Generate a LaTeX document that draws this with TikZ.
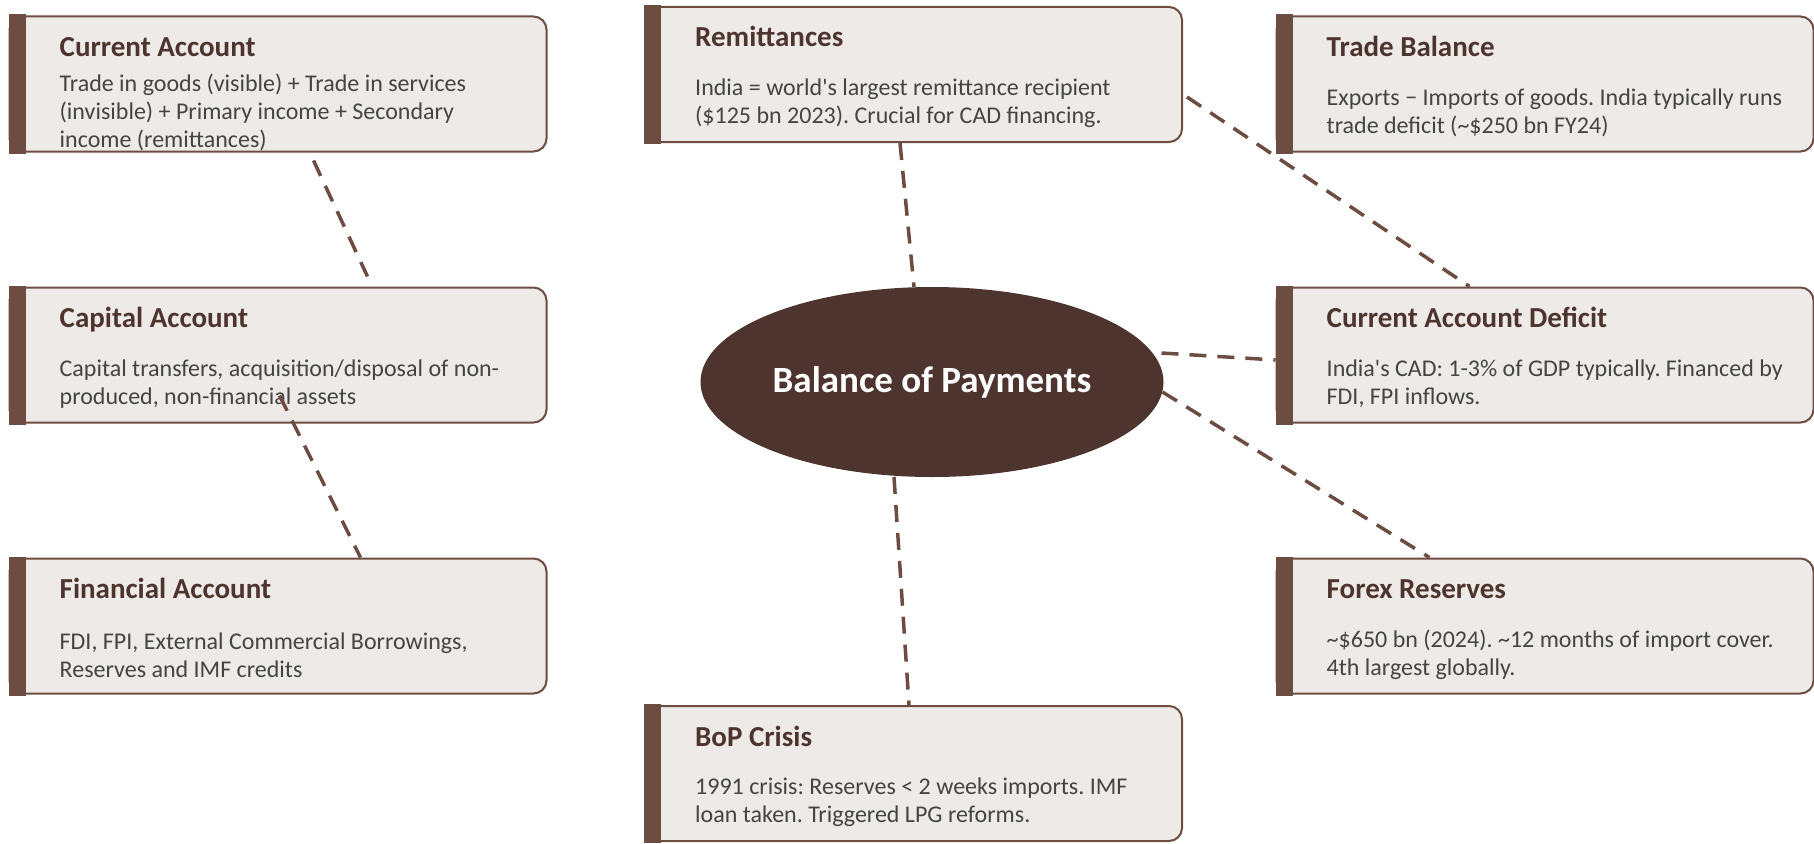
\documentclass[tikz,border=0pt]{standalone}
\usepackage{fontspec}
\setmainfont{Carlito}
\usepackage{tikz}
\usepackage{xcolor}
\usetikzlibrary{positioning, shapes.geometric}

\definecolor{bopdark}{HTML}{4E342E}
\definecolor{bopbrown}{HTML}{6D4C41}
\definecolor{boplight}{HTML}{EEEAE7}
\definecolor{boptext}{HTML}{444444}

\frenchspacing

\begin{document}
\begin{tikzpicture}[
    x=1pt, y=-1pt,
    infobox/.style={draw=bopbrown, line width=2pt, fill=boplight, rounded corners=13pt,
        minimum width=537pt, minimum height=135pt, inner sep=0pt},
    boxtitle/.style={anchor=base west, inner sep=0pt, text=bopdark,
        font=\fontsize{29}{34}\selectfont\bfseries},
    boxbody/.style={anchor=west, align=left, inner sep=0pt, text=boptext,
        font=\fontsize{24}{27.8}\selectfont},
    hub/.style={ellipse, fill=bopdark, minimum width=463pt, minimum height=190pt,
        inner sep=0pt, outer sep=0pt, text=white, font=\fontsize{37}{44}\selectfont\bfseries},
    link/.style={draw=bopbrown, line width=3.5pt, dash pattern=on 17pt off 11pt}
]
    % Frame
    \useasboundingbox (0,0) rectangle (1814,843);

    % Central Node
    \node[hub] (bop) at (932,382) {Balance of Payments};

    % Left Column
    \node[infobox] (ca) at (278,84) {};
    \node[infobox, below=134pt of ca] (cap) {};
    \node[infobox, below=134pt of cap] (fin) {};

    % Middle Column
    \node[infobox] (rem) at (913.5,74.5) {};
    \node[infobox] (crisis) at (913.5,773.5) {};

    % Right Column
    \node[infobox] (tb) at (1545,84) {};
    \node[infobox, below=134pt of tb] (cad) {};
    \node[infobox, below=134pt of cad] (fx) {};

    % Side Bars
    \foreach \b in {ca, cap, fin, rem, crisis, tb, cad, fx}
        \fill[bopbrown] ([shift={(0,-1)}]\b.north west) rectangle ([shift={(17,1)}]\b.south west);

    % Titles and Descriptions
    \node[boxtitle] (catitle) at ([shift={(51,41)}]ca.north west) {Current Account};
    \node[boxbody] (cabody) at ([shift={(51,97)}]ca.north west)
        {Trade in goods (visible) + Trade in services\\(invisible) + Primary income + Secondary\\income (remittances)};

    \node[boxtitle] (captitle) at ([shift={(51,41)}]cap.north west) {Capital Account};
    \node[boxbody] (capbody) at ([shift={(51,97.5)}]cap.north west)
        {Capital transfers, acquisition/disposal of non-\\produced, non-financial assets};

    \node[boxtitle] (fintitle) at ([shift={(51,41)}]fin.north west) {Financial Account};
    \node[boxbody] (finbody) at ([shift={(51,97.5)}]fin.north west)
        {FDI, FPI, External Commercial Borrowings,\\Reserves and IMF credits};

    \node[boxtitle] (remtitle) at ([shift={(51,41)}]rem.north west) {Remittances};
    \node[boxbody] (rembody) at ([shift={(51,97.5)}]rem.north west)
        {India = world\textquotesingle s largest remittance recipient\\(\$125 bn 2023). Crucial for CAD financing.};

    \node[boxtitle] (crisistitle) at ([shift={(51,41)}]crisis.north west) {BoP Crisis};
    \node[boxbody] (crisisbody) at ([shift={(51,97.5)}]crisis.north west)
        {1991 crisis: Reserves < 2 weeks imports. IMF\\loan taken. Triggered LPG reforms.};

    \node[boxtitle] (tbtitle) at ([shift={(51,41)}]tb.north west) {Trade Balance};
    \node[boxbody] (tbbody) at ([shift={(51,97.5)}]tb.north west)
        {Exports − Imports of goods. India typically runs\\trade deficit (\textasciitilde\$250 bn FY24)};

    \node[boxtitle] (cadtitle) at ([shift={(51,41)}]cad.north west) {Current Account Deficit};
    \node[boxbody] (cadbody) at ([shift={(51,97.5)}]cad.north west)
        {India\textquotesingle s CAD: 1-3\% of GDP typically. Financed by\\FDI, FPI inflows.};

    \node[boxtitle] (fxtitle) at ([shift={(51,41)}]fx.north west) {Forex Reserves};
    \node[boxbody] (fxbody) at ([shift={(51,97.5)}]fx.north west)
        {\textasciitilde\$650 bn (2024). \textasciitilde12 months of import cover.\\4th largest globally.};

    % Dashed Links
    \draw[link] ([shift={(305,8)}]ca.south west) -- ([shift={(359,-10)}]cap.north west);
    \draw[link] ([shift={(271,-28)}]cap.south west) -- ([shift={(352,0)}]fin.north west);
    \draw[link] ([shift={(256,0)}]rem.south west) -- ([shift={(-18,0)}]bop.north);
    \draw[link] ([shift={(4,91)}]rem.north east) -- ([shift={(194,0)}]cad.north west);
    \draw[link] ([shift={(-2,-29)}]bop.east) -- ([shift={(0,5)}]cad.west);
    \draw[link] ([shift={(-1,10)}]bop.east) -- ([shift={(154,0)}]fx.north west);
    \draw[link] ([shift={(-38,0)}]bop.south) -- ([shift={(265,0)}]crisis.north west);
\end{tikzpicture}
\end{document}
